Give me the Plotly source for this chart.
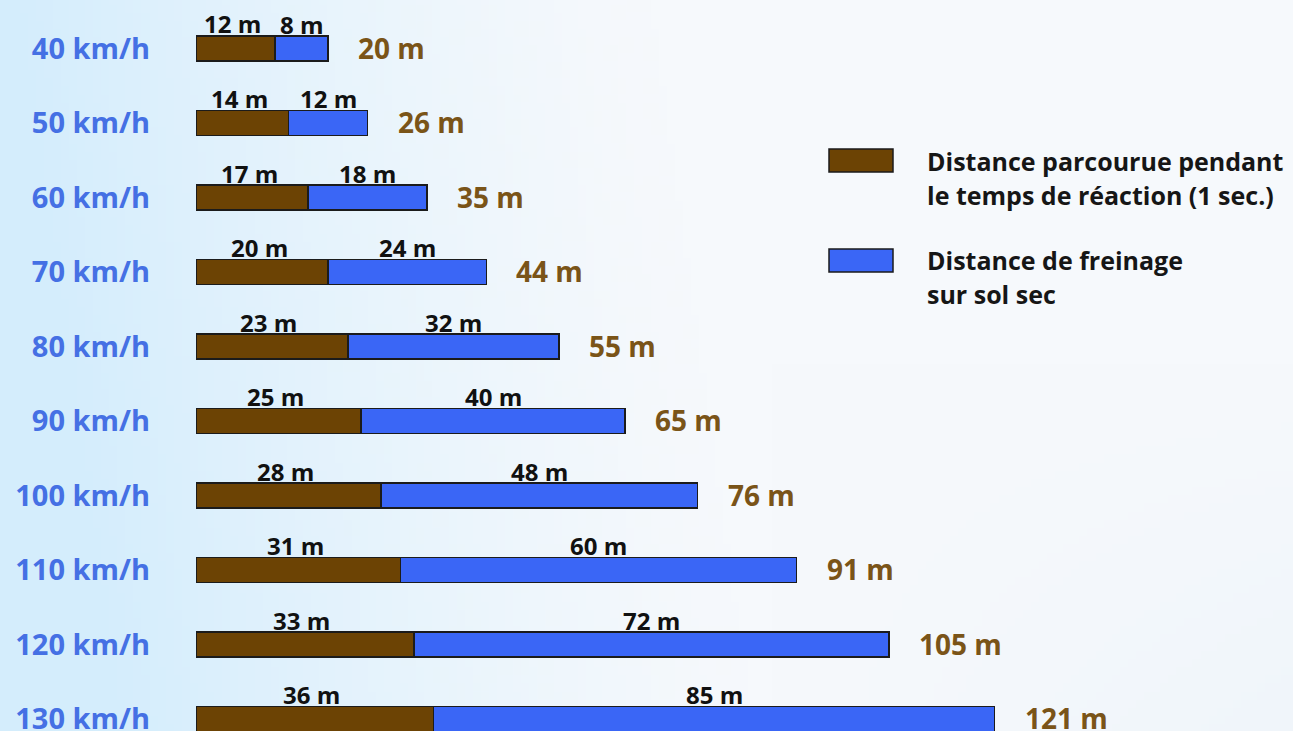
import base64, struct, zlib
import numpy as np
import plotly.graph_objects as go

# ---------------- data ----------------
speeds = ["40 km/h", "50 km/h", "60 km/h", "70 km/h", "80 km/h",
          "90 km/h", "100 km/h", "110 km/h", "120 km/h", "130 km/h"]
reaction = [12, 14, 17, 20, 23, 25, 28, 31, 33, 36]
braking = [8, 12, 18, 24, 32, 40, 48, 60, 72, 85]
totals = [20, 26, 35, 44, 55, 65, 76, 91, 105, 121]
legend_reaction = ["Distance parcourue pendant", "le temps de réaction (1 sec.)"]
legend_braking = ["Distance de freinage", "sur sol sec"]

BROWN = "#6C4304"
BLUE = "#3A66F6"
SPEED_COL = "#4570E4"
TOTAL_COL = "#7A5418"
FONT = "Open Sans"

W, H = 1293, 736
L = 196
PW = W - L

# ---------------- background gradient image ----------------
def make_png(arr):
    h, w, _ = arr.shape
    raw = b"".join(b"\x00" + arr[i].astype(np.uint8).tobytes() for i in range(h))
    def chunk(tag, data):
        c = struct.pack(">I", len(data)) + tag + data
        return c + struct.pack(">I", zlib.crc32(tag + data) & 0xffffffff)
    png = b"\x89PNG\r\n\x1a\n"
    png += chunk(b"IHDR", struct.pack(">IIBBBBB", w, h, 8, 2, 0, 0, 0))
    png += chunk(b"IDAT", zlib.compress(raw, 9))
    png += chunk(b"IEND", b"")
    return "data:image/png;base64," + base64.b64encode(png).decode()

gw, gh = 160, 90
xs = np.linspace(0, 1, gw)[None, :]
ys = np.linspace(0, 1, gh)[:, None]
t = np.clip(1 - (xs - 0.08 * ys) / 0.5, 0, 1) ** 1.3
c_blue = np.array([212, 237, 252])
c_white = np.array([246, 249, 252])
img = c_white[None, None, :] * (1 - t[..., None]) + c_blue[None, None, :] * t[..., None]
br = np.clip((xs - 0.6) / 0.4, 0, 1) * np.clip((ys - 0.5) / 0.5, 0, 1)
img = img * (1 - 0.5 * br[..., None]) + np.array([234, 242, 249])[None, None, :] * 0.5 * br[..., None]
bg_src = make_png(img)

# ---------------- figure ----------------
fig = go.Figure()
fig.add_trace(go.Bar(
    y=speeds, x=reaction, orientation="h", name=legend_reaction[0],
    marker=dict(color=BROWN, line=dict(color="#1b1b1b", width=1.5)),
    width=0.335, hoverinfo="x+y",
))
fig.add_trace(go.Bar(
    y=speeds, x=braking, orientation="h", name=legend_braking[0],
    marker=dict(color=BLUE, line=dict(color="#1b1b1b", width=1.5)),
    width=0.335, hoverinfo="x+y",
))

seg_font = dict(family=FONT, size=24, color="#111111", weight="bold")
ann = []
for s, r, b, tot in zip(speeds, reaction, braking, totals):
    ann.append(dict(x=r / 2, y=s, text=f"{r} m", showarrow=False, yanchor="bottom",
                    yshift=6, xshift=-3, font=seg_font))
    ann.append(dict(x=r + b / 2, y=s, text=f"{b} m", showarrow=False, yanchor="bottom",
                    yshift=6, font=seg_font))
    ann.append(dict(x=tot, y=s, text=f"{tot} m", showarrow=False, xanchor="left",
                    xshift=28, yshift=1,
                    font=dict(family=FONT, size=28, color=TOTAL_COL, weight="bold")))

def px_x(p):
    return (p - L) / PW

def px_y(p):
    return 1 - p / H

legend_font = dict(family=FONT, size=25, color="#161616", weight="bold")
for lines, y0 in ((legend_reaction, 161), (legend_braking, 260)):
    for k, line in enumerate(lines):
        ann.append(dict(x=px_x(925), y=px_y(y0 + 34 * k), xref="paper", yref="paper",
                        text=line, showarrow=False, xanchor="left", yanchor="middle",
                        font=legend_font))

shapes = [
    dict(type="rect", xref="paper", yref="paper", x0=px_x(829), x1=px_x(893),
         y0=px_y(172), y1=px_y(149), fillcolor=BROWN, line=dict(color="#1b1b1b", width=1.5)),
    dict(type="rect", xref="paper", yref="paper", x0=px_x(829), x1=px_x(893),
         y0=px_y(272), y1=px_y(249), fillcolor=BLUE, line=dict(color="#1b1b1b", width=1.5)),
]

row0, step = 48.5, 74.5
fig.update_layout(
    width=W, height=H, autosize=False,
    margin=dict(l=L, r=0, t=0, b=0, pad=0),
    barmode="stack",
    showlegend=False,
    paper_bgcolor="rgba(0,0,0,0)",
    plot_bgcolor="rgba(0,0,0,0)",
    annotations=ann,
    shapes=shapes,
    images=[dict(source=bg_src, xref="paper", yref="paper", x=-L / PW, y=1,
                 sizex=W / PW, sizey=1, sizing="stretch", layer="below",
                 xanchor="left", yanchor="top")],
    xaxis=dict(range=[0, PW / 6.6], visible=False, fixedrange=True),
    yaxis=dict(type="category", categoryorder="array", categoryarray=speeds,
               range=[(H - row0) / step, -row0 / step],
               showgrid=False, zeroline=False, showline=False, ticks="",
               ticklabelstandoff=45,
               tickfont=dict(family=FONT, size=29, color=SPEED_COL, weight="bold"),
               fixedrange=True),
    font=dict(family=FONT),
)

fig.write_html("out.html", config={"displayModeBar": False, "responsive": False},
               post_script="document.body.style.margin='0';document.body.style.overflow='hidden';")
